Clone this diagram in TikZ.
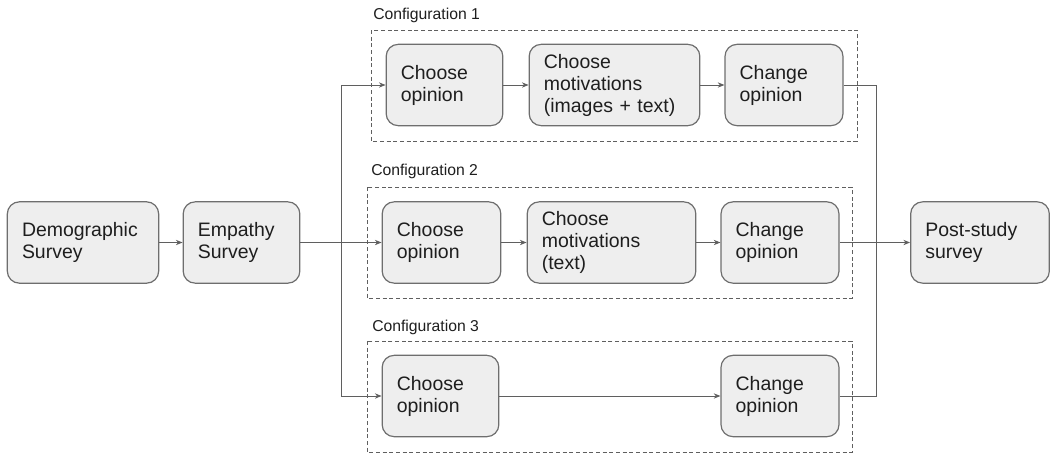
\documentclass[tikz,border=0pt]{standalone}
\usepackage{fontspec}
\setmainfont{Liberation Sans}
\usetikzlibrary{arrows.meta}
\definecolor{boxfill}{HTML}{EEEEEE}
\definecolor{boxline}{HTML}{6E6E6E}
\definecolor{lineclr}{HTML}{5F5F5F}
\definecolor{txt}{HTML}{1E1E1E}
\tikzset{
  stepbox/.style={draw=boxline, fill=boxfill, line width=0.9pt, rounded corners=9pt,
    minimum height=61pt, inner xsep=11pt, inner ysep=2pt, align=left, text=txt,
    font=\fontsize{14.6}{16.5}\selectfont},
  cfgframe/.style={draw=lineclr, dashed, dash pattern=on 3pt off 2pt, line width=0.6pt},
  cfglabel/.style={anchor=west, inner sep=0pt, text=txt, font=\fontsize{11.8}{14}\selectfont},
  conn/.style={draw=lineclr, line width=0.7pt, -{Stealth[length=5pt,width=4pt]}},
  plain/.style={draw=lineclr, line width=0.7pt},
}
\begin{document}
\begin{tikzpicture}[x=0.75pt,y=-0.75pt]
\useasboundingbox (0,0) rectangle (1051,454);
% configuration frames
\draw[cfgframe] (371,30) rectangle (857,141);
\draw[cfgframe] (367,187) rectangle (852,298);
\draw[cfgframe] (367,341) rectangle (852,452);
\node[cfglabel] (l1) at (373,15) {Configuration 1};
\node[cfglabel] (l2) at (371,171) {Configuration 2};
\node[cfglabel] (l3) at (372,327) {Configuration 3};
% boxes
\node[stepbox, text width=91.5pt] (demo) at (83,242.5) {Demographic\\Survey};
\node[stepbox, text width=65.5pt] (emp) at (241.5,242.5) {Empathy\\Survey};
\node[stepbox, text width=65.5pt] (co1) at (444.5,85) {Choose\\opinion};
\node[stepbox, text width=106pt] (cm1) at (614.5,85) {Choose\\motivations\\(images + text)};
\node[stepbox, text width=66.5pt] (ch1) at (784,85) {Change\\opinion};
\node[stepbox, text width=67pt] (co2) at (441.5,242.5) {Choose\\opinion};
\node[stepbox, text width=104.5pt] (cm2) at (611.5,242.5) {Choose\\motivations\\(text)};
\node[stepbox, text width=66.5pt] (ch2) at (780,242.5) {Change\\opinion};
\node[stepbox, text width=82pt] (post) at (980,242.5) {Post-study\\survey};
\node[stepbox, text width=65.5pt] (co3) at (440.5,396) {Choose\\opinion};
\node[stepbox, text width=66.5pt] (ch3) at (780,396) {Change\\opinion};
% junctions
\coordinate (split) at (341,242.5);
\coordinate (merge) at (876,242.5);
% connectors
\draw[conn] (demo) -- (emp);
\draw[conn] (emp.east) -- (co2.west);
\draw[conn] (split) |- (co1.west);
\draw[conn] (split) |- (co3.west);
\draw[conn] (co1) -- (cm1);
\draw[conn] (cm1) -- (ch1);
\draw[conn] (co2) -- (cm2);
\draw[conn] (cm2) -- (ch2);
\draw[conn] (co3) -- (ch3);
\draw[conn] (ch2.east) -- (post.west);
\draw[plain] (ch1.east) -| (merge);
\draw[plain] (ch3.east) -| (merge);
\end{tikzpicture}
\end{document}
